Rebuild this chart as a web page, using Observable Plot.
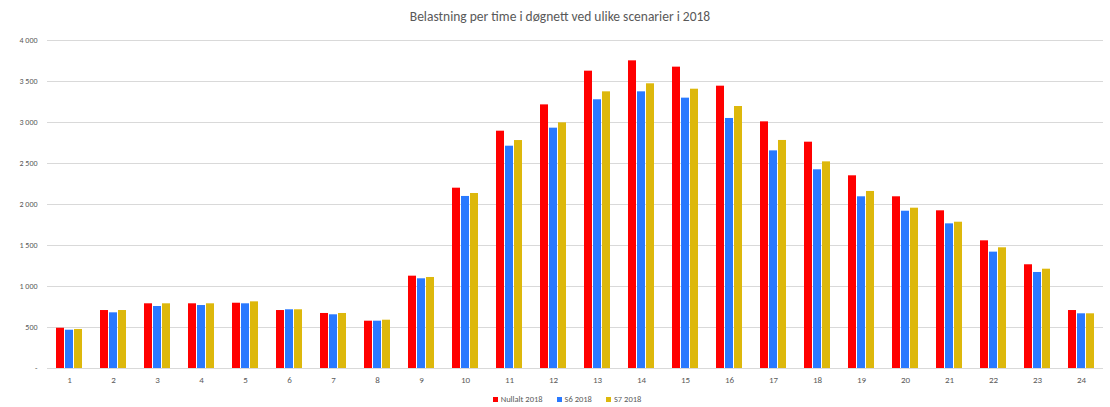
<!DOCTYPE html>
<html>
<head>
<meta charset="utf-8">
<script src="https://cdn.jsdelivr.net/npm/d3@7"></script>
<script src="https://cdn.jsdelivr.net/npm/@observablehq/plot@0.6"></script>
<style>
  body { margin: 0; background: #fff; font-family: Carlito, Calibri, "Open Sans", "Liberation Sans", sans-serif; }
  #wrap { width: 1110px; height: 407px; position: relative; overflow: hidden; }
  #title { height: 34px; line-height: 34px; text-align: center; font-size: 13.5px; color: #595959; padding-left: 10px; }
  #legend { position: absolute; left: 0; top: 394px; width: 1110px; display: flex; justify-content: center; gap: 14px; font-size: 8.5px; color: #595959; padding-left: 24px; box-sizing: border-box; }
  #legend span.item { display: flex; align-items: center; gap: 3px; }
  #legend span.sw { width: 5px; height: 5px; display: inline-block; }
</style>
</head>
<body>
<div id="wrap">
  <div id="title">Belastning per time i døgnett ved ulike scenarier i 2018</div>
  <div id="chart"></div>
  <div id="legend"></div>
</div>
<script>
const hours = d3.range(1, 25);
const seriesNames = ["Nullalt 2018", "S6 2018", "S7 2018"];
const seriesColors = ["#FF0000", "#2979FF", "#DDB80C"];
const nullalt = [491, 707, 789, 789, 796, 707, 671, 577, 1126, 2199, 2894, 3215, 3626, 3752, 3675, 3443, 3008, 2760, 2350, 2094, 1923, 1557, 1265, 707];
const s6 =      [467, 679, 756, 768, 789, 716, 655, 577, 1094, 2098, 2711, 2931, 3277, 3374, 3297, 3049, 2654, 2423, 2094, 1918, 1764, 1419, 1171, 667];
const s7 =      [476, 707, 789, 789, 813, 716, 671, 589, 1110, 2134, 2780, 2996, 3374, 3472, 3406, 3195, 2781, 2520, 2159, 1955, 1784, 1472, 1211, 667];
const yTicks = [0, 500, 1000, 1500, 2000, 2500, 3000, 3500, 4000];

const seriesValues = [nullalt, s6, s7];
const data = [];
hours.forEach((h, i) => {
  seriesNames.forEach((s, j) => data.push({hour: h, series: s, value: seriesValues[j][i]}));
});

const fmt = v => v === 0 ? "-" : d3.format(",")(v).replace(/,/g, " ");

const chart = Plot.plot({
  width: 1110,
  height: 355,
  marginLeft: 46,
  marginRight: 5,
  marginTop: 6,
  marginBottom: 21,
  style: {fontFamily: "Carlito, Calibri, 'Open Sans', 'Liberation Sans', sans-serif", color: "#595959", background: "#fff", overflow: "visible"},
  fx: {domain: hours, paddingInner: 0.36, paddingOuter: 0.18, label: null},
  x: {domain: seriesNames, paddingInner: 0.15, paddingOuter: 0, axis: null, label: null},
  y: {domain: [0, 4000], axis: null, label: null},
  color: {domain: seriesNames, range: seriesColors},
  marks: [
    Plot.ruleY(yTicks, {y: d => d, stroke: "#d9d9d9", strokeWidth: 1, insetLeft: -8, insetRight: -8}),
    Plot.axisY(yTicks, {tickSize: 0, tickPadding: 18, tickFormat: fmt, fontSize: 8, label: null, fill: "#595959"}),
    Plot.axisFx({anchor: "bottom", tickSize: 0, tickPadding: 8, fontSize: 9, label: null, fill: "#595959"}),
    Plot.barY(data, {fx: "hour", x: "series", y: "value", fill: "series", inset: 0})
  ]
});
document.getElementById("chart").appendChild(chart);

const legend = document.getElementById("legend");
seriesNames.forEach((s, j) => {
  const item = document.createElement("span");
  item.className = "item";
  const sw = document.createElement("span");
  sw.className = "sw";
  sw.style.background = seriesColors[j];
  item.appendChild(sw);
  item.appendChild(document.createTextNode(s));
  legend.appendChild(item);
});
</script>
</body>
</html>
